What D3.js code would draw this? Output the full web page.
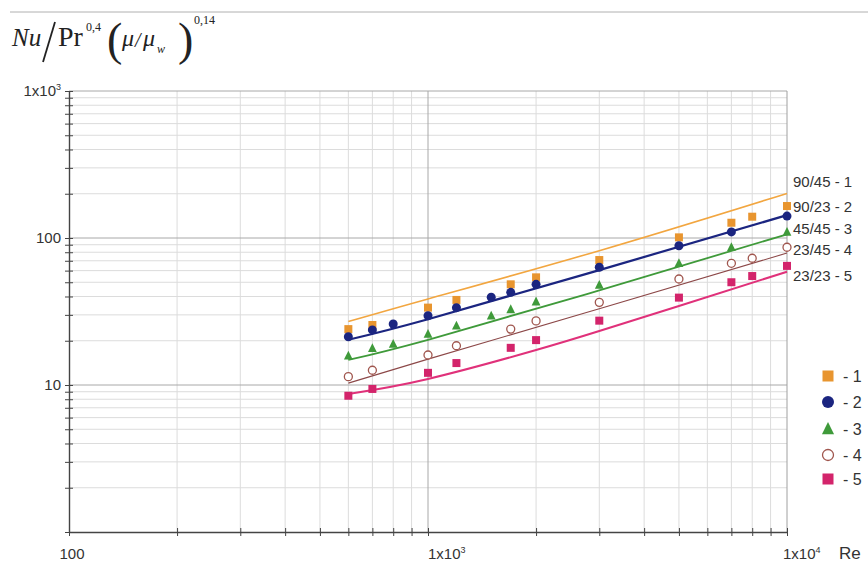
<!DOCTYPE html>
<html>
<head>
<meta charset="utf-8">
<script src="https://cdn.jsdelivr.net/npm/d3@7"></script>
<style>
  html, body { margin: 0; padding: 0; background: #fff; }
  svg { display: block; }
  .lbl { font-family: "Liberation Sans", Arial, sans-serif; fill: #333; }
  .ttl { font-family: "Liberation Serif", "DejaVu Serif", serif; fill: #222; }
</style>
</head>
<body>
<svg id="chart" width="868" height="562"></svg>
<script>
// ---- data ----
const seriesNames = ["1", "2", "3", "4", "5"];
const curveLabels = ["90/45 - 1", "90/23 - 2", "45/45 - 3", "23/45 - 4", "23/23 - 5"];
const legendLabels = ["- 1", "- 2", "- 3", "- 4", "- 5"];
const xTickLabels = ["100", "1x10", "1x10"];
const xTickSup = ["", "3", "4"];
const yTickLabels = ["10", "100", "1x10"];
const yTickSup = ["", "", "3"];

const points1 = [[600,24.0],[700,25.6],[1000,33.6],[1200,37.9],[1700,48.4],[2000,54.0],[3000,70.8],[5000,101],[7000,127],[8000,139.6],[10000,165]];
const points2 = [[600,21.3],[700,23.7],[800,26.0],[1000,29.6],[1200,33.6],[1500,39.5],[1700,42.7],[2000,48.4],[3000,63.2],[5000,88.6],[7000,110],[10000,141]];
const points3 = [[600,15.8],[700,17.8],[800,19.0],[1000,22.2],[1200,25.3],[1500,29.6],[1700,32.7],[2000,36.9],[3000,47.9],[5000,67.3],[7000,86.4],[10000,110]];
const points4 = [[600,11.4],[700,12.6],[1000,16.0],[1200,18.5],[1700,24.0],[2000,27.3],[3000,36.5],[5000,52.6],[7000,67.3],[8000,72.8],[10000,86.5]];
const points5 = [[600,8.45],[700,9.4],[1000,12.1],[1200,14.1],[1700,17.9],[2000,20.2],[3000,27.4],[5000,39.3],[7000,50.0],[8000,55.1],[10000,64.6]];

const fit1 = [[600,27],[1000,38.5],[3000,82],[10000,201]];
const fit2 = [[600,20.3],[1000,28],[3000,60.5],[10000,143]];
const fit3 = [[600,14.8],[1000,20.3],[3000,44],[10000,106]];
const fit4 = [[600,10.3],[1000,15],[3000,33],[10000,79]];
const fit5 = [[600,8.7],[1000,11.0],[2000,17.3],[3000,23.3],[5000,34.5],[10000,59]];

// ---- styling ----
const markerColors = ["#e8952f", "#1b2580", "#3f9a3a", "#a0564e", "#d3246b"];
const lineColors = ["#f2a640", "#1b2580", "#3f9a3a", "#8c4848", "#e0317a"];
const lineWidths = [1.6, 2.2, 1.8, 1.1, 2.0];
const shapes = ["square", "circle", "triangle", "open", "square"];

const svg = d3.select("#chart");
const L = 69, R = 787, T = 91, B = 532;
const x = d3.scaleLog().domain([100, 10000]).range([L, R]);
const y = d3.scaleLog().domain([1, 1000]).range([B, T]);

// top rule
svg.append("line").attr("x1", 10).attr("x2", 868).attr("y1", 12).attr("y2", 12)
  .attr("stroke", "#b0b0b0").attr("stroke-width", 1);

// grid
const minorX = [], majorX = [];
[100, 1000].forEach(d => { for (let k = 2; k <= 9; k++) minorX.push(d * k); });
majorX.push(1000);
const minorY = [];
[1, 10, 100].forEach(d => { for (let k = 2; k <= 9; k++) minorY.push(d * k); });
const majorY = [10, 100, 1000];

const g = svg.append("g");
g.selectAll(".gx").data(minorX).enter().append("line")
  .attr("x1", d => x(d)).attr("x2", d => x(d)).attr("y1", T).attr("y2", B)
  .attr("stroke", "#dcdcdc").attr("stroke-width", 1);
g.selectAll(".gy").data(minorY).enter().append("line")
  .attr("x1", L).attr("x2", R).attr("y1", d => y(d)).attr("y2", d => y(d))
  .attr("stroke", "#dcdcdc").attr("stroke-width", 1);
g.selectAll(".gX").data(majorX).enter().append("line")
  .attr("x1", d => x(d)).attr("x2", d => x(d)).attr("y1", T).attr("y2", B)
  .attr("stroke", "#a8a8a8").attr("stroke-width", 1);
g.selectAll(".gY").data(majorY).enter().append("line")
  .attr("x1", L).attr("x2", R).attr("y1", d => y(d)).attr("y2", d => y(d))
  .attr("stroke", "#a8a8a8").attr("stroke-width", 1);
// right border
g.append("line").attr("x1", R).attr("x2", R).attr("y1", T).attr("y2", B)
  .attr("stroke", "#a0a0a0").attr("stroke-width", 1);

// axes (ticks crossing axis)
const xAxis = d3.axisBottom(x).tickValues([100, ...minorX, 1000, 10000]).tickFormat("").tickSizeInner(4).tickSizeOuter(0);
const xg = svg.append("g").attr("transform", `translate(0,${B})`).call(xAxis);
xg.selectAll(".tick line").attr("y1", -4).attr("y2", 4).attr("stroke", "#444");
xg.select(".domain").attr("stroke", "#444").attr("stroke-width", 1.4);

const yAxis = d3.axisLeft(y).tickValues([1, ...minorY, 10, 100, 1000]).tickFormat("").tickSizeInner(4).tickSizeOuter(0);
const yg = svg.append("g").attr("transform", `translate(${L},0)`).call(yAxis);
yg.selectAll(".tick line").attr("x1", -4).attr("x2", 4).attr("stroke", "#444");
yg.select(".domain").attr("stroke", "#444").attr("stroke-width", 1.4);

// y tick labels
const yTickVals = [10, 100, 1000];
yTickVals.forEach((v, i) => {
  const t = svg.append("text").attr("class", "lbl").attr("x", 61).attr("y", y(v) + 5)
    .attr("text-anchor", "end").attr("font-size", 15);
  t.append("tspan").text(yTickLabels[i]);
  if (yTickSup[i]) t.append("tspan").attr("dy", -6).attr("font-size", 9).text(yTickSup[i]);
});

// x tick labels
const xTickVals = [100, 1000, 10000];
const xAnchors = ["middle", "start", "start"];
const xOffsets = [3, 0, -4];
xTickVals.forEach((v, i) => {
  const t = svg.append("text").attr("class", "lbl").attr("x", x(v) + xOffsets[i]).attr("y", 559)
    .attr("text-anchor", xAnchors[i]).attr("font-size", 15);
  t.append("tspan").text(xTickLabels[i]);
  if (xTickSup[i]) t.append("tspan").attr("dy", -6).attr("font-size", 9).text(xTickSup[i]);
});
svg.append("text").attr("class", "lbl").attr("x", 839).attr("y", 559).attr("font-size", 17).text("Re");

// fit lines
const fits = [fit1, fit2, fit3, fit4, fit5];
const lineGen = d3.line().x(d => x(d[0])).y(d => y(d[1])).curve(d3.curveNatural);
fits.forEach((f, i) => {
  svg.append("path").attr("d", lineGen(f)).attr("fill", "none")
    .attr("stroke", lineColors[i]).attr("stroke-width", lineWidths[i]);
});

// markers
function drawMarker(sel, shape, color, cx, cy, s) {
  if (shape === "square") {
    sel.append("rect").attr("x", cx - s / 2).attr("y", cy - s / 2).attr("width", s).attr("height", s).attr("fill", color);
  } else if (shape === "circle") {
    sel.append("circle").attr("cx", cx).attr("cy", cy).attr("r", s / 2 + 0.5).attr("fill", color);
  } else if (shape === "triangle") {
    const h = s * 1.05;
    sel.append("path").attr("d", `M${cx},${cy - h * 0.6}L${cx + s * 0.55},${cy + h * 0.45}L${cx - s * 0.55},${cy + h * 0.45}Z`).attr("fill", color);
  } else {
    sel.append("circle").attr("cx", cx).attr("cy", cy).attr("r", s / 2).attr("fill", "#fff")
      .attr("stroke", color).attr("stroke-width", 1.3);
  }
}
const allPoints = [points1, points2, points3, points4, points5];
allPoints.forEach((pts, i) => {
  const gg = svg.append("g");
  pts.forEach(p => drawMarker(gg, shapes[i], markerColors[i], x(p[0]), y(p[1]), 8));
});

// right curve labels
const curveLabelY = [182, 207, 229, 250, 276];
curveLabels.forEach((t, i) => {
  svg.append("text").attr("class", "lbl").attr("x", 793).attr("y", curveLabelY[i] + 5)
    .attr("font-size", 15).text(t);
});

// legend
const legY = [376, 402, 429, 455, 479];
seriesNames.forEach((n, i) => {
  const lg = svg.append("g");
  drawMarker(lg, shapes[i], markerColors[i], 828, legY[i], 11);
  svg.append("text").attr("class", "lbl").attr("x", 843).attr("y", legY[i] + 6)
    .attr("font-size", 16).text(legendLabels[i]);
});

// title: Nu / Pr^0,4 (mu/mu_w)^0,14
const tt = svg.append("g");
tt.append("text").attr("class", "ttl").attr("x", 12).attr("y", 46).attr("font-size", 25).attr("font-style", "italic").text("Nu");
tt.append("line").attr("x1", 43).attr("y1", 62).attr("x2", 55).attr("y2", 22).attr("stroke", "#222").attr("stroke-width", 1.8);
tt.append("text").attr("class", "ttl").attr("x", 58).attr("y", 46).attr("font-size", 28).text("Pr");
tt.append("text").attr("class", "ttl").attr("x", 86).attr("y", 31).attr("font-size", 12).text("0,4");
tt.append("text").attr("class", "ttl").attr("x", 107).attr("y", 55).attr("font-size", 46).text("(");
tt.append("text").attr("class", "ttl").attr("x", 122).attr("y", 46).attr("font-size", 24).attr("font-style", "italic").text("μ");
tt.append("text").attr("class", "ttl").attr("x", 135).attr("y", 47).attr("font-size", 20).attr("font-style", "italic").text("/");
tt.append("text").attr("class", "ttl").attr("x", 143).attr("y", 46).attr("font-size", 24).attr("font-style", "italic").text("μ");
tt.append("text").attr("class", "ttl").attr("x", 157).attr("y", 53).attr("font-size", 12).attr("font-style", "italic").text("w");
tt.append("text").attr("class", "ttl").attr("x", 178).attr("y", 55).attr("font-size", 46).text(")");
tt.append("text").attr("class", "ttl").attr("x", 194).attr("y", 24).attr("font-size", 12).text("0,14");
</script>
</body>
</html>
